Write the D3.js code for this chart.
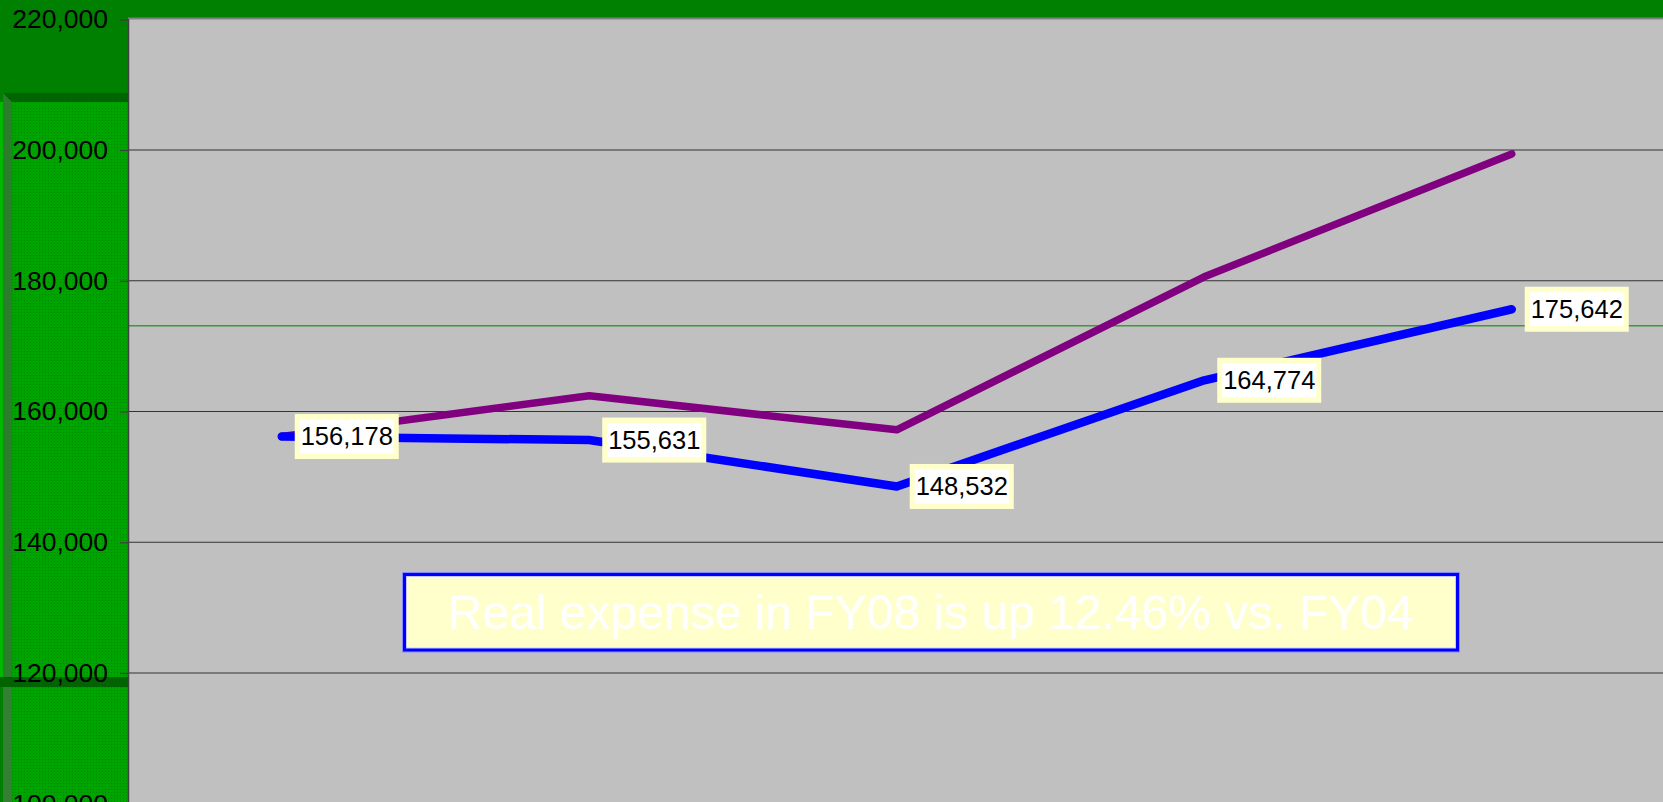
<!DOCTYPE html>
<html>
<head>
<meta charset="utf-8">
<script src="https://cdn.jsdelivr.net/npm/d3@7"></script>
<style>
  html, body { margin: 0; padding: 0; background: #008000; overflow: hidden; }
  svg { display: block; font-family: "Liberation Sans", Arial, sans-serif; }
</style>
</head>
<body>
<div id="chart"></div>
<script>
// data
let years = ["FY04", "FY05", "FY06", "FY07", "FY08"];
let realExpense = [156178, 155631, 148532, 164774, 175642];
let nominalExpense = [156178, 162400, 157200, 180600, 199400];
let yTicks = [100000, 120000, 140000, 160000, 180000, 200000, 220000];
let targetLine = 173100;
let note = "Real expense in FY08 is up 12.46% vs. FY04";

let W = 1663, H = 802;
let plotLeft = 128, plotTop = 19;

let svg = d3.select("#chart").append("svg")
    .attr("width", W)
    .attr("height", H);

// textured block on the left
let defs = svg.append("defs");
let pat = defs.append("pattern")
    .attr("id", "dots")
    .attr("width", 3).attr("height", 3)
    .attr("patternUnits", "userSpaceOnUse");
pat.append("rect").attr("width", 3).attr("height", 3).attr("fill", "#00a400");
pat.append("rect").attr("width", 1).attr("height", 1).attr("fill", "#008a00");

svg.append("rect").attr("x", 0).attr("y", 0).attr("width", W).attr("height", H).attr("fill", "#008000");
svg.append("rect").attr("x", 3).attr("y", 93).attr("width", plotLeft - 3).attr("height", H - 93).attr("fill", "url(#dots)");
svg.append("rect").attr("x", 0).attr("y", 102).attr("width", 3).attr("height", 575).attr("fill", "#00b800");
svg.append("rect").attr("x", 3).attr("y", 93).attr("width", 9).attr("height", 584).attr("fill", "#2a7d2a");
svg.append("rect").attr("x", 3).attr("y", 687).attr("width", 9).attr("height", H - 687).attr("fill", "#337f33");
svg.append("path").attr("d", "M3,93 L" + plotLeft + ",93 L" + plotLeft + ",102 L12,102 Z").attr("fill", "#006400");
svg.append("rect").attr("x", 0).attr("y", 677).attr("width", plotLeft).attr("height", 10).attr("fill", "#006400");

// plot area
svg.append("rect")
    .attr("x", plotLeft).attr("y", plotTop)
    .attr("width", W - plotLeft).attr("height", H - plotTop)
    .attr("fill", "#c0c0c0");
svg.append("line")
    .attr("x1", plotLeft).attr("x2", W)
    .attr("y1", plotTop - 0.5).attr("y2", plotTop - 0.5)
    .attr("stroke", "#808080").attr("stroke-width", 2);

let x = d3.scalePoint()
    .domain(years)
    .range([plotLeft, 1665.5])
    .padding(0.5);

let y = d3.scaleLinear()
    .domain([100000, 220000])
    .range([803.75, 19.25]);

// gridlines
svg.append("g")
    .selectAll("line")
    .data(yTicks.filter(d => d > 100000 && d < 220000))
    .enter().append("line")
    .attr("x1", plotLeft).attr("x2", W)
    .attr("y1", d => y(d)).attr("y2", d => y(d))
    .attr("stroke", "#333")
    .attr("stroke-width", 1.2);

// green reference line
svg.append("line")
    .attr("x1", plotLeft).attr("x2", W)
    .attr("y1", y(targetLine)).attr("y2", y(targetLine))
    .attr("stroke", "#008000")
    .attr("stroke-width", 1);

// y axis
let yAxis = d3.axisLeft(y)
    .tickValues(yTicks)
    .tickSize(8)
    .tickPadding(12)
    .tickFormat(d3.format(","));

let ax = svg.append("g")
    .attr("transform", "translate(" + plotLeft + ",0)")
    .call(yAxis);
ax.select(".domain").attr("stroke", "#404040").attr("stroke-width", 1.5);
ax.selectAll(".tick line").attr("stroke", "#404040").attr("stroke-width", 1.2);
ax.selectAll(".tick text")
    .attr("fill", "#000")
    .style("font-size", "26.5px")
    .style("font-family", "Liberation Sans, Arial, sans-serif");

// lines
let line = d3.line()
    .x((d, i) => x(years[i]))
    .y(d => y(d));

svg.append("path")
    .datum(nominalExpense)
    .attr("d", line)
    .attr("fill", "none")
    .attr("stroke", "#800080")
    .attr("stroke-width", 7.5)
    .attr("stroke-linecap", "round")
    .attr("stroke-linejoin", "round");

svg.append("path")
    .datum(realExpense)
    .attr("d", line)
    .attr("fill", "none")
    .attr("stroke", "#0000ff")
    .attr("stroke-width", 8.5)
    .attr("stroke-linecap", "round")
    .attr("stroke-linejoin", "round");

// value labels
let labels = svg.append("g")
    .selectAll("g")
    .data(realExpense)
    .enter().append("g")
    .attr("transform", (d, i) => "translate(" + (x(years[i]) + 13) + "," + y(d) + ")");

labels.append("rect")
    .attr("x", 0).attr("y", -22.5)
    .attr("width", 104).attr("height", 45)
    .attr("fill", "#ffffcc");
labels.append("rect")
    .attr("x", 5).attr("y", -17)
    .attr("width", 94).attr("height", 34)
    .attr("fill", "#fff");
labels.append("text")
    .attr("x", 52).attr("y", 9)
    .attr("text-anchor", "middle")
    .style("font-size", "25.5px")
    .attr("fill", "#000")
    .text(d => d3.format(",")(d));

// annotation box
let box = svg.append("g");
box.append("rect")
    .attr("x", 402).attr("y", 572)
    .attr("width", 1058).attr("height", 80.5)
    .attr("fill", "#8a8aff");
box.append("rect")
    .attr("x", 403).attr("y", 573)
    .attr("width", 1056).attr("height", 78.5)
    .attr("fill", "#0000ff");
box.append("rect")
    .attr("x", 406).attr("y", 576)
    .attr("width", 1050).attr("height", 72.5)
    .attr("fill", "#c8c8ff");
box.append("rect")
    .attr("x", 407).attr("y", 577)
    .attr("width", 1048).attr("height", 70.5)
    .attr("fill", "#ffffcc");
box.append("text")
    .attr("x", 931).attr("y", 629)
    .attr("text-anchor", "middle")
    .style("font-size", "48px")
    .attr("fill", "#ffffff")
    .text(note);
</script>
</body>
</html>
